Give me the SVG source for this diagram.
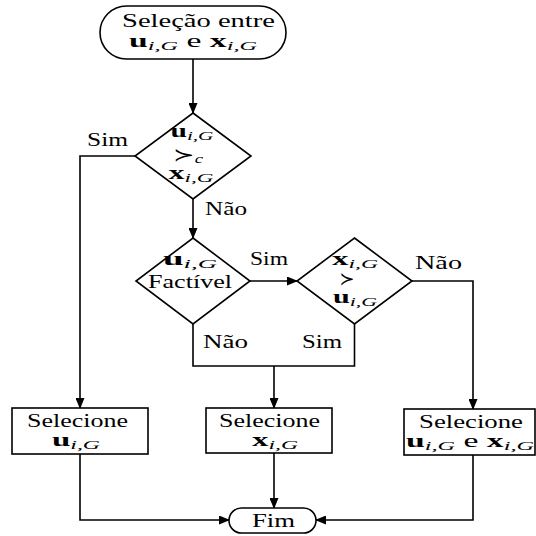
<svg xmlns="http://www.w3.org/2000/svg" width="536" height="536" viewBox="0 0 536 536">
<defs>
<marker id="arr" markerWidth="11" markerHeight="9" refX="10" refY="4.5" orient="auto" markerUnits="userSpaceOnUse">
<path d="M0,0 L11,4.5 L0,9 z" fill="#000"/>
</marker>
<style>
.shape{fill:#fff;stroke:#000;stroke-width:1.6}
.line{fill:none;stroke:#000;stroke-width:1.6}
.arrow{fill:none;stroke:#000;stroke-width:1.6;marker-end:url(#arr)}
text{font-family:"Liberation Serif","DejaVu Serif",serif;font-size:18px;fill:#000;text-anchor:middle}
.b{font-weight:bold}
.s{font-style:italic;font-size:13px}
.rel{font-family:"DejaVu Serif","DejaVu Sans",serif}
</style>
</defs>
<rect width="536" height="536" fill="#fff"/>
<g id="connectors">
<path class="arrow" d="M193,59 L193,113"/>
<path class="arrow" d="M135,156 L80,156 L80,408"/>
<path class="arrow" d="M193,199 L193,238"/>
<path class="arrow" d="M250,281 L297,281"/>
<path class="arrow" d="M412,281 L473,281 L473,409"/>
<path class="line" d="M193,324 L193,366 L354.5,366 L354.5,324"/>
<path class="arrow" d="M274,366 L274,408"/>
<path class="arrow" d="M80,454 L80,520 L229,520"/>
<path class="arrow" d="M274,453 L274,508"/>
<path class="arrow" d="M473,455 L473,520 L316,520"/>
</g>
<g id="labels">
<text x="107.5" y="146" textLength="41" lengthAdjust="spacingAndGlyphs">Sim</text>
<text x="226" y="215" textLength="42" lengthAdjust="spacingAndGlyphs">Não</text>
<text x="269" y="265" textLength="38" lengthAdjust="spacingAndGlyphs">Sim</text>
<text x="438.5" y="269" textLength="47" lengthAdjust="spacingAndGlyphs">Não</text>
<text x="225.5" y="348" textLength="45" lengthAdjust="spacingAndGlyphs">Não</text>
<text x="322" y="348" textLength="40" lengthAdjust="spacingAndGlyphs">Sim</text>
</g>
<g id="start">
<rect class="shape" x="100" y="6" width="186" height="53" rx="26.5" ry="26.5"/>
<text x="198.5" y="27" textLength="153" lengthAdjust="spacingAndGlyphs">Seleção entre</text>
<text x="193" y="47" textLength="128" lengthAdjust="spacingAndGlyphs"><tspan class="b">u</tspan><tspan class="s" dy="3">i,G</tspan><tspan dy="-3"> e </tspan><tspan class="b">x</tspan><tspan class="s" dy="3">i,G</tspan></text>
</g>
<g id="decision1">
<polygon class="shape" points="193,113 251,156 193,199 135,156"/>
<text x="192" y="137" textLength="43" lengthAdjust="spacingAndGlyphs"><tspan class="b">u</tspan><tspan class="s" dy="3">i,G</tspan></text>
<text x="188" y="161" textLength="30" lengthAdjust="spacingAndGlyphs"><tspan class="rel">≻</tspan><tspan class="s" dy="2">c</tspan></text>
<text x="191" y="179" textLength="45" lengthAdjust="spacingAndGlyphs"><tspan class="b">x</tspan><tspan class="s" dy="3">i,G</tspan></text>
</g>
<g id="decision2">
<polygon class="shape" points="193,238 250,281 193,324 136,281"/>
<text x="190" y="265" textLength="54" lengthAdjust="spacingAndGlyphs"><tspan class="b">u</tspan><tspan class="s" dy="3">i,G</tspan></text>
<text x="190" y="288" textLength="84" lengthAdjust="spacingAndGlyphs">Factível</text>
</g>
<g id="decision3">
<polygon class="shape" points="354.5,238 412,281 354.5,324 297,281"/>
<text x="355" y="265" textLength="46" lengthAdjust="spacingAndGlyphs"><tspan class="b">x</tspan><tspan class="s" dy="3">i,G</tspan></text>
<text x="347" y="285" class="rel">≻</text>
<text x="355" y="303" textLength="44" lengthAdjust="spacingAndGlyphs"><tspan class="b">u</tspan><tspan class="s" dy="3">i,G</tspan></text>
</g>
<g id="select-u">
<rect class="shape" x="12" y="408" width="136" height="46"/>
<text x="77.5" y="427" textLength="101" lengthAdjust="spacingAndGlyphs">Selecione</text>
<text x="76" y="446" textLength="48" lengthAdjust="spacingAndGlyphs"><tspan class="b">u</tspan><tspan class="s" dy="3">i,G</tspan></text>
</g>
<g id="select-x">
<rect class="shape" x="206" y="408" width="126" height="45"/>
<text x="269.5" y="427" textLength="101" lengthAdjust="spacingAndGlyphs">Selecione</text>
<text x="275" y="446" textLength="46" lengthAdjust="spacingAndGlyphs"><tspan class="b">x</tspan><tspan class="s" dy="3">i,G</tspan></text>
</g>
<g id="select-both">
<rect class="shape" x="404" y="409" width="131" height="46"/>
<text x="471" y="428" textLength="104" lengthAdjust="spacingAndGlyphs">Selecione</text>
<text x="470" y="447" textLength="128" lengthAdjust="spacingAndGlyphs"><tspan class="b">u</tspan><tspan class="s" dy="3">i,G</tspan><tspan dy="-3"> e </tspan><tspan class="b">x</tspan><tspan class="s" dy="3">i,G</tspan></text>
</g>
<g id="end">
<rect class="shape" x="229" y="508" width="87" height="25" rx="12.5" ry="12.5"/>
<text x="273.5" y="527" textLength="43" lengthAdjust="spacingAndGlyphs">Fim</text>
</g>
</svg>
